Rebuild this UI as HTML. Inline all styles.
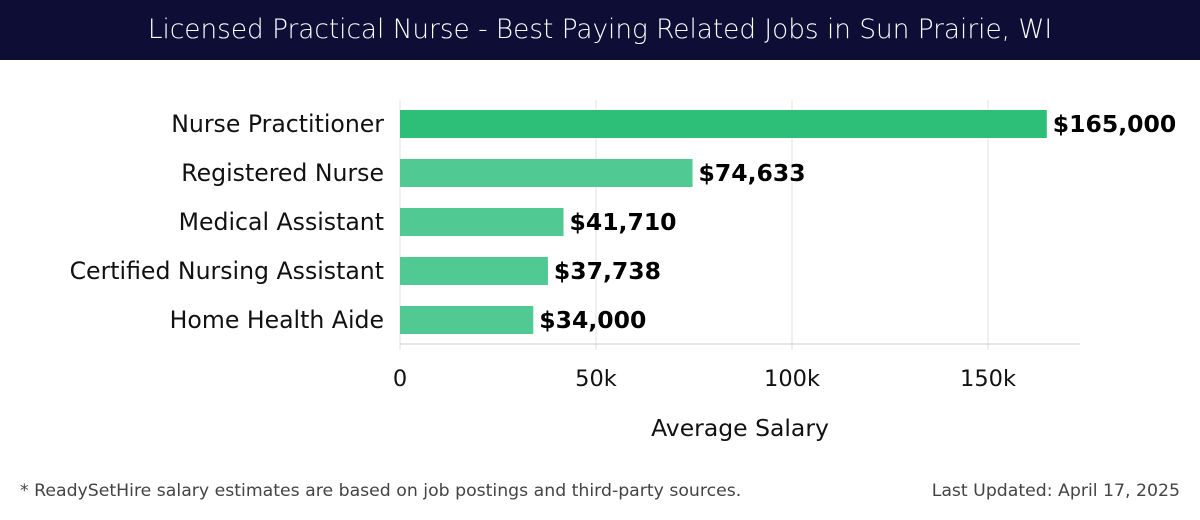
<!DOCTYPE html>
<html><head><meta charset="utf-8"><style>
body{margin:0;width:1200px;height:520px;background:#fff;font-family:"DejaVu Sans","Liberation Sans",sans-serif;overflow:hidden}
#title{position:absolute;left:0;top:0;width:1200px;height:60px;background:#0d0d35;color:#fff;font-size:26.3px;line-height:60px;text-align:center;font-weight:300}
.foot{position:absolute;top:481px;font-size:17.3px;color:#444}
</style></head><body>
<div id="title">Licensed Practical Nurse - Best Paying Related Jobs in Sun Prairie, WI</div>
<svg id="chart" width="1200" height="520" style="position:absolute;left:0;top:0"></svg>
<div class="foot" style="left:20px">* ReadySetHire salary estimates are based on job postings and third-party sources.</div>
<div class="foot" style="right:20px">Last Updated: April 17, 2025</div>
<script>
const categories=["Nurse Practitioner","Registered Nurse","Medical Assistant","Certified Nursing Assistant","Home Health Aide"];
const values=[165000,74633,41710,37738,34000];
const valueLabels=["$165,000","$74,633","$41,710","$37,738","$34,000"];
const ticks=[0,50000,100000,150000];
const tickLabels=["0","50k","100k","150k"];
const svg=document.getElementById('chart');const NS="http://www.w3.org/2000/svg";
const x=v=>400+v*196/50000;const yTop=i=>110+i*49;const bh=28;
function mk(t,a,p){const e=document.createElementNS(NS,t);for(const k in a)e.setAttribute(k,a[k]);(p||svg).appendChild(e);return e;}
ticks.forEach((t,i)=>{
 const g=mk('line',{x1:x(t),x2:x(t),y1:100,y2:350,stroke:'#e2e2e2','stroke-width':1});
 
 
 const l=mk('text',{x:x(t),y:386,'text-anchor':'middle','font-size':22.5,fill:'#111'});l.textContent=tickLabels[i];
 
 
});
const ax=mk('line',{x1:400,x2:1080,y1:344,y2:344,stroke:'#ccc','stroke-width':1});


categories.forEach((c,i)=>{
 const r=mk('rect',{x:400,y:yTop(i),width:x(values[i])-400,height:bh,fill:i==0?'#2dbe78':'#50ca92'});
 
 
 const cl=mk('text',{x:384,y:yTop(i)+bh/2+8,'text-anchor':'end','font-size':23.6,fill:'#111'});cl.textContent=c;
 
 
 const vl=mk('text',{x:x(values[i])+6,y:yTop(i)+bh/2+8,'font-size':23.5,'font-weight':'bold',fill:'#000'});vl.textContent=valueLabels[i];
 
 
});
const at=mk('text',{x:740,y:436,'text-anchor':'middle','font-size':23.5,fill:'#111'});at.textContent="Average Salary";


</script>
</body></html>
